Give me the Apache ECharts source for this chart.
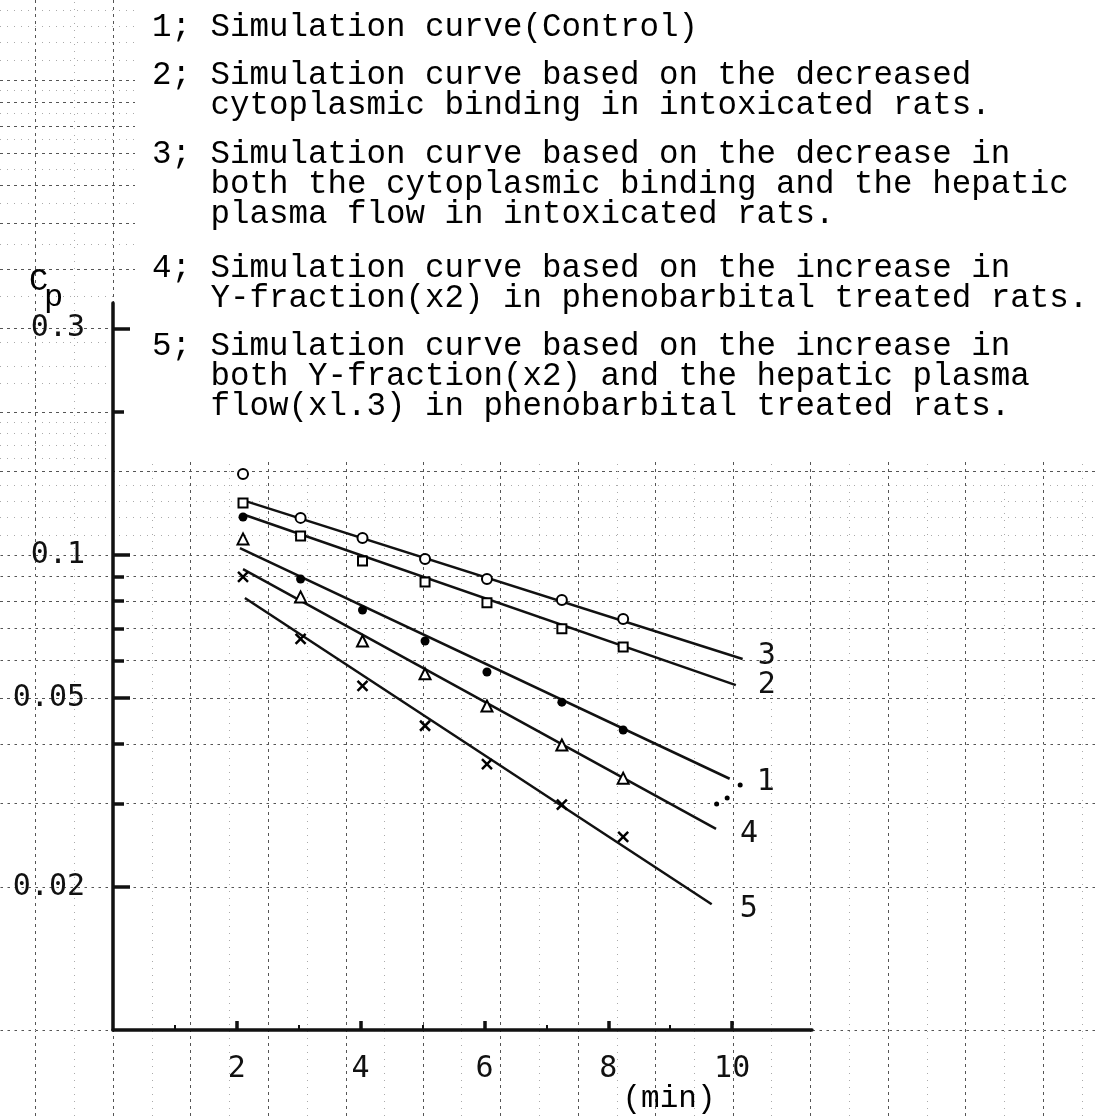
<!DOCTYPE html>
<html><head><meta charset="utf-8">
<script src="https://cdn.jsdelivr.net/npm/echarts@6/dist/echarts.min.js"></script>
<style>html,body{margin:0;padding:0;background:#fff}#c{width:1096px;height:1116px}</style>
</head><body><div id="c"></div>
<script>
// ---------------- data ----------------
const times      = [2.1, 3.03, 4.03, 5.04, 6.04, 7.25, 8.24];          // min
const circles    = [0.148, 0.1197, 0.1086, 0.0981, 0.0890, 0.0804, 0.0733];
const squares    = [0.1287, 0.1096, 0.0971, 0.0877, 0.0793, 0.0699, 0.0640];
const dots       = [0.1202, 0.0890, 0.0766, 0.0659, 0.0567, 0.0490, 0.0428];
const triangles  = [0.1081, 0.0816, 0.0659, 0.0562, 0.0481, 0.0398, 0.0339];
const crosses    = [0.0899, 0.0666, 0.0530, 0.0437, 0.0363, 0.0298, 0.0255];
const strayX     = [9.75, 9.92, 10.13];
const strayY     = [0.0299, 0.0308, 0.0328];

const curveNames = ['1', '2', '3', '4', '5'];
const curveX     = [[2.05, 9.96], [2.13, 10.06], [2.13, 10.17], [2.1, 9.74], [2.13, 9.67]];
const curveY     = [[0.1034, 0.0338], [0.1214, 0.0532], [0.1300, 0.0604], [0.0934, 0.0265], [0.0812, 0.0184]];

const xMajorTicks = [2, 4, 6, 8, 10];
const xMinorTicks = [1, 3, 5, 7, 9];
const yLabelVals  = [0.3, 0.1, 0.05, 0.02];
const yLabelText  = ['0.3', '0.1', '0.05', '0.02'];
const yMinorTicks = [0.2, 0.09, 0.08, 0.07, 0.06, 0.04, 0.03];

const legendItems = [
  ['1; Simulation curve(Control)'],
  ['2; Simulation curve based on the decreased',
   '   cytoplasmic binding in intoxicated rats.'],
  ['3; Simulation curve based on the decrease in',
   '   both the cytoplasmic binding and the hepatic',
   '   plasma flow in intoxicated rats.'],
  ['4; Simulation curve based on the increase in',
   '   Y-fraction(x2) in phenobarbital treated rats.'],
  ['5; Simulation curve based on the increase in',
   '   both Y-fraction(x2) and the hepatic plasma',
   '   flow(xl.3) in phenobarbital treated rats.']
];
const yTitle = ['C', 'p'];
const xTitle = '(min)';

// graph-paper background lines (semi-log paper)
const paperRowsMain  = [0.007,0.008,0.009,0.01,0.015,0.02,0.03,0.04,0.05,0.06,0.07,0.08,0.09,0.1,0.15,0.2,0.3,0.4,0.5,0.6,0.7,0.8,0.9,1.0];
const paperRowsMinor = [0.0075,0.0085,0.0095,0.011,0.012,0.013,0.014,0.016,0.017,0.018,0.019,0.0225,0.025,0.0275,0.035,0.045,0.055,0.065,0.075,0.085,0.095,0.11,0.12,0.13,0.14,0.16,0.17,0.18,0.19,0.225,0.25,0.275,0.35,0.45,0.55,0.65,0.75,0.85,0.95,1.1,1.2,1.3,1.4];
const paperColIdx    = [-1,0,1,2,3,4,5,6,7,8,9,10,11,12];
const paperColStep   = 1.252;   // minutes per paper column

// ---------------- layout ----------------
const X_MAX = 11.29, Y_MIN = 0.01, Y_MAX = 0.3392;
const PX_MIN = -1.8255, PX_MAX = 15.88, PY_MIN = 0.006589, PY_MAX = 1.474;
const INK = '#111';
const LABEL_FONT = 'DejaVu Sans Mono';
const TYPE_FONT = 'Liberation Mono';

const zip = (xs, ys) => xs.map((x, i) => [x, ys[i]]);
const colsMain  = paperColIdx.map(k => k * paperColStep);
const colsMinor = paperColIdx.map(k => (k + 0.5) * paperColStep);

const paperSeries = (cols, rows, color, dash) => ({
  type: 'scatter', xAxisIndex: 2, yAxisIndex: 3, data: [], z: 1, silent: true,
  markLine: {
    z: 1, silent: true, symbol: ['none', 'none'], label: {show: false}, animation: false,
    lineStyle: {color: color, type: dash, width: 1},
    emphasis: {disabled: true},
    data: cols.map(v => ({xAxis: v})).concat(rows.map(v => ({yAxis: v})))
  }
});

const endOffsets = [[27, 3], [22, 0], [15, -3], [24, 5], [28, 5]];
const curveSeries = curveNames.map((n, i) => ({
  name: n, type: 'line', xAxisIndex: 0, yAxisIndex: 0, z: 12,
  data: zip(curveX[i], curveY[i]), symbol: 'none', silent: true,
  lineStyle: {color: INK, width: 2.5},
  endLabel: {show: true, formatter: n, distance: endOffsets[i][0], offset: [0, endOffsets[i][1]],
    color: INK, fontFamily: LABEL_FONT, fontSize: 30}
}));

const markerSeries = (vals, symbol, size, style) => ({
  type: 'scatter', xAxisIndex: 0, yAxisIndex: 0, z: 13, silent: true,
  data: zip(times, vals), symbol: symbol, symbolSize: size, itemStyle: Object.assign({opacity: 1}, style)
});

const logLabel = v => {
  for (let i = 0; i < yLabelVals.length; i++) if (Math.abs(Math.log10(yLabelVals[i]) - v) < 1e-6) return yLabelText[i];
  return '';
};

const legendTops = [12, 60, 139, 253, 331];
const legendGraphics = legendItems.map((lines, i) => ({
  type: 'text', x: 152, y: legendTops[i], z: 20,
  style: {text: lines.join('\n'), font: '32.5px "' + TYPE_FONT + '"', fill: '#000',
    lineHeight: 30, verticalAlign: 'top', align: 'left'}
}));

const option = {
  animation: false,
  backgroundColor: '#ffffff',
  grid: [
    {left: 113, top: 303, width: 699, height: 727},
    {left: 0, top: 0, width: 1096, height: 1116}
  ],
  xAxis: [
    {gridIndex: 0, type: 'value', min: 0, max: X_MAX, position: 'bottom', z: 10,
     axisLine: {show: true, onZero: false, lineStyle: {color: INK, width: 3.5}},
     axisTick: {show: true, inside: true, length: 9, customValues: xMajorTicks, lineStyle: {color: INK, width: 3.5}},
     axisLabel: {show: true, customValues: xMajorTicks, margin: 24, color: INK, fontFamily: LABEL_FONT, fontSize: 30},
     splitLine: {show: false}},
    {gridIndex: 0, type: 'value', min: 0, max: X_MAX, position: 'bottom', z: 10,
     axisLine: {show: false, onZero: false},
     axisTick: {show: true, inside: true, length: 5, customValues: xMinorTicks, lineStyle: {color: INK, width: 2}},
     axisLabel: {show: false}, splitLine: {show: false}},
    {gridIndex: 1, type: 'value', min: PX_MIN, max: PX_MAX, show: false}
  ],
  yAxis: [
    {gridIndex: 0, type: 'log', logBase: 10, min: Y_MIN, max: Y_MAX, position: 'left', z: 10,
     axisLine: {show: true, onZero: false, lineStyle: {color: INK, width: 3.5}},
     axisTick: {show: false}, axisLabel: {show: false}, splitLine: {show: false}, minorTick: {show: false}},
    {gridIndex: 0, type: 'value', min: Math.log10(Y_MIN), max: Math.log10(Y_MAX), position: 'left', z: 10,
     axisLine: {show: false, onZero: false},
     axisTick: {show: true, inside: true, length: 17, customValues: yLabelVals.map(Math.log10), lineStyle: {color: INK, width: 3.5}},
     axisLabel: {show: true, customValues: yLabelVals.map(Math.log10), formatter: logLabel, margin: 28,
       color: INK, fontFamily: LABEL_FONT, fontSize: 30},
     splitLine: {show: false}},
    {gridIndex: 0, type: 'value', min: Math.log10(Y_MIN), max: Math.log10(Y_MAX), position: 'left', z: 10,
     axisLine: {show: false, onZero: false},
     axisTick: {show: true, inside: true, length: 11, customValues: yMinorTicks.map(Math.log10), lineStyle: {color: INK, width: 3.5}},
     axisLabel: {show: false}, splitLine: {show: false}},
    {gridIndex: 1, type: 'log', logBase: 10, min: PY_MIN, max: PY_MAX, show: false}
  ],
  series: [
    paperSeries(colsMain, paperRowsMain, '#555', [3, 4]),
    paperSeries(colsMinor, paperRowsMinor, '#aaa', [1, 6])
  ].concat(curveSeries).concat([
    markerSeries(circles, 'emptyCircle', 10, {color: '#000', borderColor: '#000', borderWidth: 2.5}),
    markerSeries(squares, 'emptyRect', 9, {color: '#000', borderColor: '#000', borderWidth: 3}),
    markerSeries(dots, 'circle', 9, {color: '#000'}),
    markerSeries(triangles, 'emptyTriangle', 11, {color: '#000', borderColor: '#000', borderWidth: 2.5}),
    markerSeries(crosses, 'path://M0,0L10,10M10,0L0,10', 10, {color: 'transparent', borderColor: '#000', borderWidth: 2.5}),
    {type: 'scatter', xAxisIndex: 0, yAxisIndex: 0, z: 13, silent: true,
     data: zip(strayX, strayY), symbol: 'circle', symbolSize: 5, itemStyle: {color: '#000', opacity: 1}}
  ]),
  graphic: [
    {type: 'rect', z: 3, shape: {x: 135, y: 0, width: 961, height: 290}, style: {fill: '#fff'}, silent: true},
    {type: 'rect', z: 3, shape: {x: 116, y: 290, width: 980, height: 170}, style: {fill: '#fff'}, silent: true},
    {type: 'text', z: 20, x: 29, y: 282, style: {text: yTitle[0], font: '32px "' + TYPE_FONT + '"', fill: '#000', verticalAlign: 'middle'}},
    {type: 'text', z: 20, x: 44, y: 298, style: {text: yTitle[1], font: '32px "' + TYPE_FONT + '"', fill: '#000', verticalAlign: 'middle'}},
    {type: 'text', z: 20, x: 669, y: 1099, style: {text: xTitle, font: '31px "' + TYPE_FONT + '"', fill: '#000', align: 'center', verticalAlign: 'middle'}}
  ].concat(legendGraphics)
};

const chart = echarts.init(document.getElementById('c'), null, {renderer: 'canvas'});
chart.setOption(option);
</script>
</body></html>
